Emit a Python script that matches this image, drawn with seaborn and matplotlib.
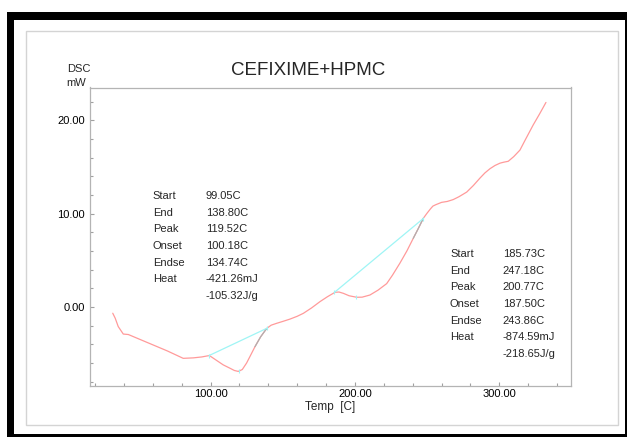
import matplotlib
matplotlib.use("Agg")
import matplotlib.pyplot as plt
import seaborn as sns
import pandas as pd
from matplotlib.patches import Rectangle

# DSC trace
temp = [32.3, 34.0, 36.1, 39.6, 43.1, 50, 60, 70, 81.1, 88.1, 94, 99.2, 104, 108.8,
        114, 116.5, 119.2, 122, 125.0, 128, 130.8, 134.7, 138.9, 142, 145.8, 150, 155.0,
        160, 164.3, 170, 175.8, 181, 186.2, 189, 192.0, 196, 201.2, 205, 210.4, 216,
        222.0, 226, 231.2, 236, 240.4, 243.9, 247.4, 250, 252.3, 254, 256, 260.0, 264,
        268.1, 272, 277.4, 282, 286.6, 290, 293.5, 297, 300.5, 303, 306.2, 310, 314.3,
        318, 323.5, 328, 332.3]
dsc = [-0.67, -1.2, -2.1, -2.9, -2.95, -3.4, -4.05, -4.7, -5.5, -5.45, -5.35, -5.2,
       -5.7, -6.2, -6.6, -6.8, -6.9, -6.7, -6.0, -5.1, -4.25, -3.2, -2.3, -1.95, -1.75,
       -1.55, -1.3, -1.0, -0.68, -0.1, 0.57, 1.1, 1.57, 1.6, 1.46, 1.2, 1.04, 1.05,
       1.28, 1.8, 2.5, 3.4, 4.7, 6.0, 7.35, 8.4, 9.5, 10.05, 10.5, 10.8, 10.95, 11.2,
       11.3, 11.5, 11.8, 12.3, 13.0, 13.8, 14.35, 14.8, 15.15, 15.4, 15.5, 15.6, 16.1,
       16.8, 17.9, 19.5, 20.7, 21.9]

# peak analysis results
peak_start = [99.05, 185.73]
peak_end = [138.80, 247.18]
peak_top = [119.52, 200.77]
peak_endset = [134.74, 243.86]
base_y_start = [-5.2, 1.55]
base_y_end = [-2.3, 9.45]
peak_y = [-6.9, 1.04]

labels = ["Start", "End", "Peak", "Onset", "Endse", "Heat"]
values1 = ["99.05C", "138.80C", "119.52C", "100.18C", "134.74C", "-421.26mJ", "-105.32J/g"]
values2 = ["185.73C", "247.18C", "200.77C", "187.50C", "243.86C", "-874.59mJ", "-218.65J/g"]

xticks = [100, 200, 300]
yticks = [0, 10, 20]

sns.set_style("white")
plt.rcParams["font.family"] = ["Liberation Sans", "DejaVu Sans"]

W, H = 628, 438
fig = plt.figure(figsize=(W / 100, H / 100), dpi=100)


def fx(px):
    return px / W


def fy(py):
    return 1 - py / H


# page frame (kept behind the axes)
fig.add_artist(Rectangle((fx(6.7), fy(437)), fx(627) - fx(6.7), fy(11.7) - fy(437),
                         transform=fig.transFigure, facecolor="black", edgecolor="none",
                         zorder=-10))
fig.add_artist(Rectangle((fx(14), fy(433.5)), fx(625) - fx(14), fy(20) - fy(433.5),
                         transform=fig.transFigure, facecolor="white", edgecolor="none",
                         zorder=-9))
fig.add_artist(Rectangle((fx(25.7), fy(425)), fx(617.7) - fx(25.7), fy(30.7) - fy(425),
                         transform=fig.transFigure, facecolor="none", edgecolor="#d4d4d4",
                         lw=1, zorder=-8))

ax = fig.add_axes([fx(89.5), fy(385.7), fx(570.5) - fx(89.5), fy(87.5) - fy(385.7)])
ax.set_facecolor("white")

df = pd.DataFrame({"temp": temp, "dsc": dsc})
sns.lineplot(data=df, x="temp", y="dsc", ax=ax, color="#ff9a9a", lw=0.9,
             estimator=None, sort=False)

# endset -> end part of the trace drawn in grey
for es, en in zip(peak_endset, peak_end):
    seg = df[(df["temp"] >= es - 4) & (df["temp"] <= en + 0.5)]
    ax.plot(seg["temp"], seg["dsc"], color="#b0b0b0", lw=0.9)

# baselines and markers
for s, e, ys, ye, p, yp in zip(peak_start, peak_end, base_y_start, base_y_end, peak_top, peak_y):
    ax.plot([s, e], [ys, ye], color="#9ff5f5", lw=0.9)
    ax.plot([s, e, p], [ys, ye, yp], ls="none", marker="|", ms=3, color="#9ff5f5", mew=0.8)

ax.set_xlim(16.2, 349.3)
ax.set_ylim(-8.43, 23.5)
ax.set_xticks(xticks)
ax.set_xticklabels([f"{v:.2f}" for v in xticks])
ax.set_yticks(yticks)
ax.set_yticklabels([f"{v:.2f}" for v in yticks])
ax.set_xticks(range(20, 349, 20), minor=True)
ax.set_yticks(range(-8, 24, 2), minor=True)
ax.tick_params(which="both", direction="in", color="#a0a0a0", labelsize=8,
               labelcolor="black", width=0.8)
ax.tick_params(which="major", length=3, pad=2.5)
ax.tick_params(which="minor", length=2)
ax.tick_params(axis="y", which="major", pad=3.5)
ax.tick_params(left=True, bottom=True, which="both")
for sp in ax.spines.values():
    sp.set_color("#b4b4b4")
    sp.set_linewidth(0.9)
ax.set_xlabel("Temp  [C]", fontsize=8.5, labelpad=1)
ax.set_ylabel("")

fig.text(fx(308), fy(75), "CEFIXIME+HPMC", fontsize=13.5, ha="center", va="baseline")
fig.text(fx(66.7), fy(72), "DSC", fontsize=8, ha="left", va="baseline")
fig.text(fx(66.7), fy(86), "mW", fontsize=8, ha="left", va="baseline")

# analysis text blocks
blocks = [(152.7, 206.0, 199.3, values1), (450.0, 502.7, 257.3, values2)]
for lx, vx, by, vals in blocks:
    for i, v in enumerate(vals):
        yb = by + i * 16.6
        if i < len(labels):
            fig.text(fx(lx), fy(yb), labels[i], fontsize=8, ha="left", va="baseline")
        fig.text(fx(vx), fy(yb), v, fontsize=8, ha="left", va="baseline")

fig.savefig("out.png", dpi=100)
